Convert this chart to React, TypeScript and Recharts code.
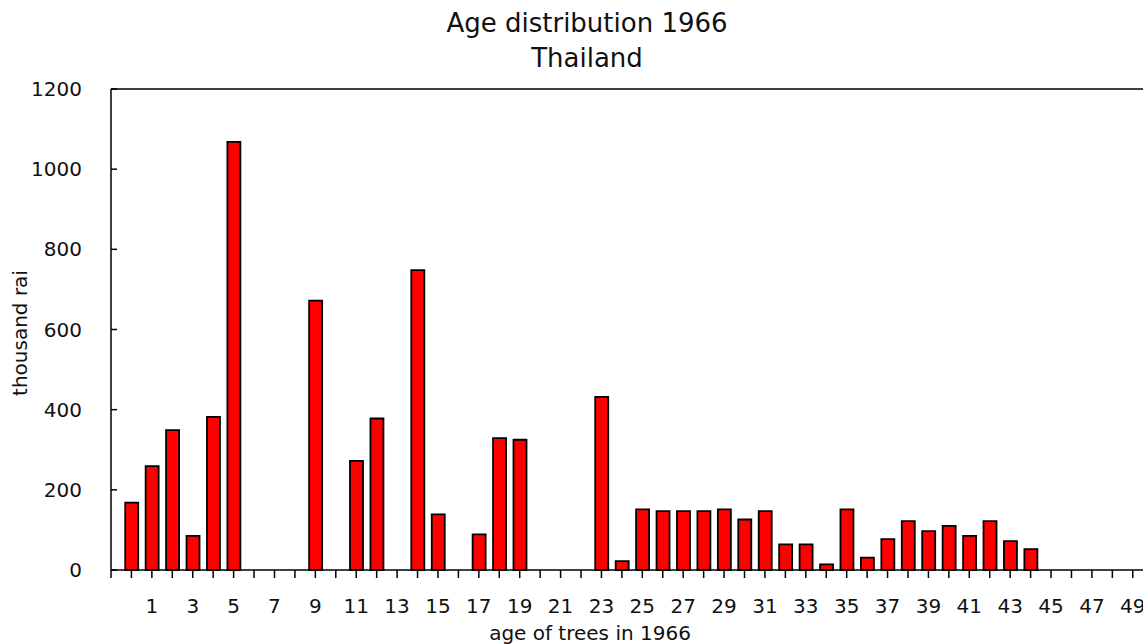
import { BarChart, Bar, XAxis, YAxis, ReferenceLine } from "recharts";

// age of trees (years) and planted area (thousand rai)
const ages = Array.from({ length: 50 }, (_, i) => i);
const areas = [
  168, 259, 349, 85, 382, 1068, 0, 0, 0, 672,
  0, 272, 378, 0, 748, 139, 0, 89, 329, 325,
  0, 0, 0, 432, 22, 151, 147, 147, 147, 151,
  126, 147, 64, 64, 14, 151, 31, 77, 122, 97,
  110, 85, 122, 72, 52, 0, 0, 0, 0, 0,
];
const xTicks = [-1, ...ages];
const yTicks = [0, 200, 400, 600, 800, 1000, 1200];

const data = ages.map((age, i) => ({ age, area: areas[i] }));

const FONT = "'DejaVu Sans', Verdana, sans-serif";

const XTick = ({ x, y, payload }: any) => {
  const v = payload.value;
  return (
    <g>
      <line x1={x} x2={x} y1={y} y2={y + 8} stroke="#000" strokeWidth={1.5} />
      {v > 0 && v % 2 === 1 && (
        <text x={x} y={y + 43} textAnchor="middle" fontSize={20} fontFamily={FONT} fill="#111">
          {v}
        </text>
      )}
    </g>
  );
};

const YTick = ({ x, y, payload }: any) => (
  <g>
    <line x1={x} x2={x + 6} y1={y} y2={y} stroke="#000" strokeWidth={1.5} />
    <text x={x - 29} y={y + 7} textAnchor="end" fontSize={20} fontFamily={FONT} fill="#111">
      {payload.value}
    </text>
  </g>
);

export default function App() {
  return (
    <div
      style={{
        position: "absolute",
        left: 0,
        top: 0,
        width: 1143,
        height: 644,
        overflow: "hidden",
        background: "#fff",
        fontFamily: FONT,
      }}
    >
      <div
        style={{
          position: "absolute",
          left: 0,
          top: 5.5,
          width: 1174,
          textAlign: "center",
          fontSize: 26,
          lineHeight: "35px",
          color: "#111",
        }}
      >
        <div>Age distribution 1966</div>
        <div>Thailand</div>
      </div>
      <BarChart
        width={1143}
        height={644}
        data={data}
        margin={{ top: 89, right: 0, bottom: 0, left: 0 }}
      >
        <XAxis
          dataKey="age"
          type="number"
          domain={[-1, 49.5]}
          ticks={xTicks}
          interval={0}
          height={74}
          tickSize={0}
          tickMargin={0}
          tickLine={false}
          tick={<XTick />}
          axisLine={{ stroke: "#000", strokeWidth: 1.5 }}
        />
        <YAxis
          domain={[0, 1200]}
          ticks={yTicks}
          interval={0}
          width={111}
          tickSize={0}
          tickMargin={0}
          tickLine={false}
          tick={<YTick />}
          axisLine={{ stroke: "#000", strokeWidth: 1.5 }}
        />
        {/* frame line along the top of the plot */}
        <ReferenceLine y={1200} stroke="#000" strokeWidth={1.5} ifOverflow="visible" />
        <Bar
          dataKey="area"
          barSize={13}
          fill="#ff0000"
          stroke="#000"
          strokeWidth={1.8}
          isAnimationActive={false}
        />
      </BarChart>
      <svg
        width={1143}
        height={644}
        style={{ position: "absolute", left: 0, top: 0, pointerEvents: "none" }}
      >
        <text
          x={590}
          y={640}
          textAnchor="middle"
          fontSize={20}
          fontFamily={FONT}
          fill="#111"
        >
          age of trees in 1966
        </text>
        <text
          transform="translate(27 333) rotate(-90)"
          textAnchor="middle"
          fontSize={20}
          fontFamily={FONT}
          fill="#111"
        >
          thousand rai
        </text>
      </svg>
    </div>
  );
}
